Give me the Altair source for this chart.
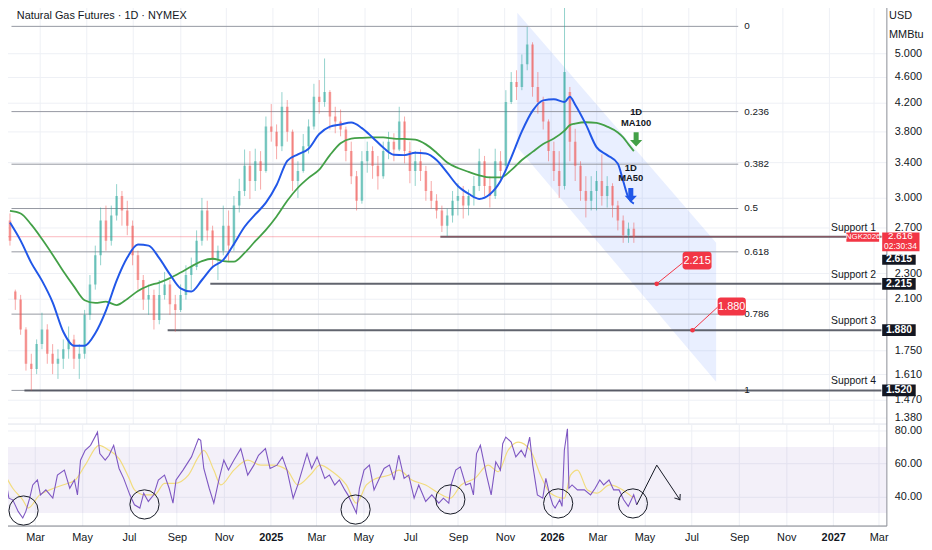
import altair as alt
import pandas as pd

FONT = "Liberation Sans"
INK = "#131722"
UP = "#26a69a"
DOWN = "#ef5350"

# ---------------- weekly candles (USD / MMBtu) ----------------
candle_start = "2024-01-22"
opens = [2.77, 2.155, 2.095, 1.885, 1.67, 1.64, 1.79, 1.885, 1.73, 1.67,
         1.70, 1.758, 1.82, 1.70, 1.73, 1.985, 2.21, 2.45, 2.77, 2.58,
         2.82, 3.02, 2.87, 2.72, 2.45, 2.245, 2.095, 2.13, 1.95, 2.13,
         2.21, 2.06, 2.02, 2.13, 2.285, 2.35, 2.58, 2.87, 2.675, 2.41,
         2.49, 2.72, 2.535, 2.92, 3.075, 3.36, 3.185, 3.415, 3.30, 3.86,
         3.79, 3.60, 4.14, 3.79, 3.185, 3.30, 3.60, 3.86, 4.29, 4.21,
         4.36, 4.00, 3.93, 3.82, 3.54, 3.24, 2.97, 3.415, 3.54, 3.36,
         3.24, 3.54, 3.66, 3.56, 3.93, 3.54, 3.30, 3.415, 3.30, 3.075,
         2.97, 2.87, 2.72, 2.82, 2.97, 3.02, 2.92, 3.02, 3.13, 3.415,
         3.13, 3.02, 3.415, 3.36, 4.21, 4.52, 4.44, 4.81, 5.16, 4.44,
         4.21, 3.93, 3.54, 3.30, 3.13, 4.36, 3.66, 3.36, 3.075, 2.97,
         3.075, 3.185, 3.02, 3.13, 2.92, 2.77, 2.63, 2.69]
highs = [2.84, 2.17, 2.13, 1.90, 1.73, 1.82, 2.00, 1.92, 1.79, 1.758,
         1.82, 1.905, 1.85, 1.79, 2.02, 2.285, 2.535, 2.90, 2.92, 2.92,
         3.15, 3.075, 2.97, 2.77, 2.49, 2.285, 2.21, 2.17, 2.245, 2.31,
         2.245, 2.13, 2.21, 2.365, 2.43, 2.675, 3.00, 2.97, 2.72, 2.535,
         2.92, 2.87, 3.02, 3.21, 3.56, 3.54, 3.57, 3.54, 4.00, 4.18,
         3.89, 4.36, 4.24, 3.82, 3.415, 3.76, 3.96, 4.49, 4.55, 4.91,
         4.39, 4.14, 4.10, 3.86, 3.66, 3.30, 3.54, 3.66, 3.60, 3.48,
         3.66, 3.79, 3.77, 4.14, 4.00, 3.66, 3.54, 3.56, 3.36, 3.185,
         3.04, 2.92, 2.89, 3.075, 3.16, 3.13, 3.09, 3.24, 3.57, 3.48,
         3.24, 3.57, 3.54, 4.39, 4.68, 4.71, 4.98, 5.49, 5.20, 4.68,
         4.29, 3.96, 3.66, 3.54, 6.50, 4.44, 3.83, 3.415, 3.24, 3.24,
         3.30, 3.50, 3.24, 3.16, 2.97, 2.82, 2.75, 2.75]
lows = [2.535, 2.02, 1.85, 1.63, 1.52, 1.61, 1.758, 1.67, 1.61, 1.583,
        1.64, 1.70, 1.64, 1.583, 1.70, 1.95, 2.17, 2.365, 2.49, 2.535,
        2.77, 2.72, 2.63, 2.365, 2.17, 2.02, 1.985, 1.885, 1.92, 2.095,
        1.985, 1.87, 2.005, 2.095, 2.17, 2.325, 2.535, 2.58, 2.35, 2.245,
        2.45, 2.40, 2.49, 2.85, 3.02, 2.99, 3.075, 3.09, 3.28, 3.66,
        3.44, 3.54, 3.66, 3.075, 3.00, 3.28, 3.51, 3.82, 4.04, 4.14,
        3.82, 3.77, 3.73, 3.415, 3.15, 2.87, 2.94, 3.28, 3.21, 3.09,
        3.21, 3.44, 3.415, 3.54, 3.39, 3.16, 3.13, 3.185, 2.97, 2.89,
        2.79, 2.66, 2.62, 2.75, 2.82, 2.79, 2.82, 2.92, 3.075, 3.02,
        2.90, 2.99, 3.185, 3.33, 4.18, 4.24, 4.39, 4.71, 4.29, 4.04,
        3.82, 3.415, 3.185, 3.00, 3.09, 3.415, 3.185, 2.97, 2.80, 2.87,
        2.87, 2.92, 2.90, 2.80, 2.675, 2.56, 2.56, 2.56]
closes = [2.58, 2.095, 1.885, 1.67, 1.64, 1.79, 1.885, 1.73, 1.67, 1.70,
          1.758, 1.82, 1.70, 1.73, 1.985, 2.21, 2.45, 2.77, 2.58, 2.82,
          3.02, 2.87, 2.72, 2.45, 2.245, 2.095, 2.13, 1.95, 2.13, 2.21,
          2.06, 2.02, 2.13, 2.285, 2.35, 2.58, 2.87, 2.675, 2.41, 2.49,
          2.72, 2.535, 2.92, 3.075, 3.36, 3.185, 3.415, 3.30, 3.86, 3.79,
          3.60, 4.14, 3.79, 3.185, 3.30, 3.60, 3.86, 4.29, 4.21, 4.36,
          4.00, 3.93, 3.82, 3.54, 3.24, 2.97, 3.415, 3.54, 3.36, 3.24,
          3.54, 3.66, 3.56, 3.93, 3.54, 3.30, 3.415, 3.30, 3.075, 2.97,
          2.87, 2.72, 2.82, 2.97, 3.02, 2.92, 3.02, 3.13, 3.415, 3.13,
          3.02, 3.415, 3.30, 4.21, 4.52, 4.44, 4.81, 5.16, 4.44, 4.21,
          3.93, 3.54, 3.30, 3.13, 4.68, 3.66, 3.36, 3.075, 2.97, 3.075,
          3.185, 3.02, 3.13, 2.92, 2.77, 2.63, 2.69, 2.616]

# ---------------- moving averages (sampled at candle weeks) ----------------
ma_weeks = list(range(0, 105, 2)) + [105, 106, 108, 110, 112, 114, 115, 116, 117]
ma50 = [2.75, 2.58, 2.385, 2.24, 2.075, 1.87, 1.78, 1.78, 1.86, 2.015,
        2.24, 2.43, 2.545, 2.535, 2.425, 2.29, 2.18, 2.155, 2.245, 2.35,
        2.41, 2.55, 2.71, 2.83, 2.95, 3.14, 3.42, 3.50, 3.57, 3.76,
        3.86, 3.89, 3.915, 3.84, 3.715, 3.585, 3.495, 3.49, 3.52, 3.51,
        3.43, 3.28, 3.13, 3.045, 2.99, 3.04, 3.185, 3.46, 3.795, 4.08,
        4.235, 4.25, 4.21, 4.29, 4.17, 3.89, 3.59, 3.49, 3.385, 3.185,
        3.00, 2.94]
ma100 = [2.865, 2.84, 2.73, 2.595, 2.455, 2.315, 2.195, 2.09, 2.07, 2.08,
         2.055, 2.10, 2.16, 2.20, 2.225, 2.26, 2.305, 2.355, 2.40, 2.42,
         2.40, 2.395, 2.47, 2.575, 2.68, 2.81, 2.97, 3.11, 3.22, 3.315,
         3.49, 3.64, 3.70, 3.71, 3.715, 3.715, 3.70, 3.695, 3.685, 3.625,
         3.52, 3.40, 3.335, 3.29, 3.25, 3.225, 3.225, 3.31, 3.43, 3.53,
         3.63, 3.70, 3.805, 3.88, 3.90, 3.92, 3.91, 3.86, 3.78, 3.715,
         3.625, 3.54]

# ---------------- RSI (day offset from candle_start, value) ----------------
rsi_points = [(-3, 41), (1, 50), (5, 39), (10, 38), (17, 31), (23, 27), (27, 31), (32, 39), (36, 47),
              (42, 50), (46, 41), (53, 44), (62, 39), (68, 53), (77, 56), (84, 45), (90, 50), (94, 41),
              (98, 62), (104, 68), (111, 71), (120, 79), (123, 66), (130, 62), (135, 65), (141, 71),
              (148, 57), (154, 51), (162, 41), (168, 35), (175, 33), (180, 42), (186, 37), (193, 41),
              (199, 50), (207, 53), (213, 45), (218, 36), (222, 50), (231, 56), (242, 64), (251, 75),
              (254, 74), (258, 57), (265, 45), (271, 36), (278, 51), (284, 62), (290, 56), (297, 62),
              (306, 69), (315, 53), (323, 59), (329, 65), (338, 69), (344, 57), (353, 59), (360, 64),
              (366, 56), (374, 39), (380, 47), (392, 66), (398, 57), (405, 64), (415, 51), (421, 53),
              (428, 47), (434, 50), (441, 44), (445, 41), (451, 35), (456, 30), (460, 45), (466, 56),
              (473, 59), (479, 44), (486, 51), (492, 57), (499, 59), (505, 50), (511, 65), (518, 51),
              (524, 53), (531, 39), (537, 47), (546, 37), (554, 41), (563, 36), (569, 39), (576, 36),
              (579, 47), (585, 56), (591, 58), (598, 47), (604, 48), (608, 41), (612, 66), (617, 71),
              (621, 62), (625, 53), (631, 41), (637, 61), (643, 56), (646, 72), (650, 76), (657, 73),
              (663, 64), (670, 68), (675, 64), (681, 76), (685, 59), (691, 41), (698, 39), (702, 51),
              (707, 41), (711, 35), (714, 33), (720, 38), (723, 34), (726, 68), (730, 81), (732, 45),
              (736, 47), (743, 44), (752, 44), (760, 41), (766, 45), (772, 50), (777, 47), (784, 50),
              (790, 44), (797, 44), (803, 38), (809, 34), (816, 41), (820, 35)]
rsi_ma_points = [(-3, 56), (10, 45), (23, 38), (30, 33), (45, 41), (58, 44), (75, 47), (91, 50),
                 (104, 59), (122, 71), (135, 68), (148, 63), (161, 51), (168, 44), (181, 41), (194, 41),
                 (207, 48), (220, 48), (238, 53), (251, 64), (258, 68), (271, 56), (280, 47), (297, 56),
                 (315, 62), (332, 59), (348, 59), (366, 56), (380, 47), (396, 53), (409, 59), (425, 55),
                 (443, 47), (456, 36), (469, 47), (482, 51), (499, 53), (511, 56), (528, 50), (546, 47),
                 (563, 42), (578, 39), (592, 47), (610, 51), (627, 59), (640, 55), (653, 68), (666, 73),
                 (682, 68), (695, 53), (708, 42), (726, 39), (734, 53), (743, 56), (756, 44), (768, 42),
                 (785, 47), (798, 45), (816, 39)]
rsi_circles_day = [24, 181, 455, 578, 718, 815]
rsi_circles_val = [31.5, 35.2, 32.1, 38.2, 35.8, 35.8]
zigzag_day = [820, 846, 876]
zigzag_val = [35, 59, 38]

# ---------------- levels and annotations ----------------
fib_levels = ["0", "0.236", "0.382", "0.5", "0.618", "0.786", "1"]
fib_prices = [5.50, 4.07, 3.38, 2.89, 2.48, 1.99, 1.52]
fib_start, fib_end, fib_label_at = "2024-01-24", "2026-09-04", "2026-09-12"

support_names = ["Support 1", "Support 2", "Support 3", "Support 4"]
support_prices = [2.615, 2.215, 1.880, 1.520]
support_start = ["2025-08-09", "2024-10-11", "2024-08-16", "2024-02-10"]
support_tags = ["2.615", "2.215", "1.880", "1.520"]
last_price = 2.616

callout_text = ["2.215", "1.880"]
callout_dot_date = ["2026-05-20", "2026-07-06"]
callout_dot_price = [2.215, 1.880]
callout_tip_date = ["2026-06-23", "2026-08-08"]
callout_tip_price = [2.385, 2.04]
callout_box_start = ["2026-06-23", "2026-08-08"]
callout_box_end = ["2026-07-31", "2026-09-14"]
callout_box_low = [2.33, 1.98]
callout_box_high = [2.48, 2.11]

channel_dates = ["2025-11-18", "2026-08-06"]
channel_top = [5.77, 2.56]
channel_bottom = [3.59, 1.567]

price_ticks = [5.0, 4.6, 4.2, 3.8, 3.4, 3.0, 2.7, 2.3, 2.1, 1.75, 1.61, 1.47, 1.38]
rsi_ticks = [80, 60, 40]
month_ticks = [(2024, 3), (2024, 5), (2024, 7), (2024, 9), (2024, 11),
               (2025, 1), (2025, 3), (2025, 5), (2025, 7), (2025, 9), (2025, 11),
               (2026, 1), (2026, 3), (2026, 5), (2026, 7), (2026, 9), (2026, 11),
               (2027, 1), (2027, 3)]

# ---------------- frames ----------------
base = pd.Timestamp(candle_start)
dates = pd.date_range(candle_start, periods=len(opens), freq="7D")
candles = pd.DataFrame({"date": dates, "open": opens, "high": highs, "low": lows, "close": closes})
candles["dir"] = ["up" if c >= o else "down" for o, c in zip(opens, closes)]

ma_df = pd.DataFrame([(dates[w], a, b) for w, a, b in zip(ma_weeks, ma50, ma100)],
                     columns=["date", "ma50", "ma100"])

rsi_df = pd.DataFrame(rsi_points, columns=["day", "rsi"])
rsi_df["date"] = base + pd.to_timedelta(rsi_df["day"], unit="D")
rsi_ma_df = pd.DataFrame(rsi_ma_points, columns=["day", "rsi"])
rsi_ma_df["date"] = base + pd.to_timedelta(rsi_ma_df["day"], unit="D")
circ_df = pd.DataFrame({"date": base + pd.to_timedelta(rsi_circles_day, unit="D"), "rsi": rsi_circles_val})
zig_df = pd.DataFrame({"date": base + pd.to_timedelta(zigzag_day, unit="D"), "rsi": zigzag_val})
head_df = zig_df.tail(1)

fib_df = pd.DataFrame({"level": fib_levels, "price": fib_prices,
                       "start": pd.to_datetime(fib_start), "end": pd.to_datetime(fib_end),
                       "label_at": pd.to_datetime(fib_label_at)})
sup_df = pd.DataFrame({"name": support_names, "price": support_prices,
                       "start": pd.to_datetime(support_start),
                       "end": pd.Timestamp("2027-03-11"), "label_at": pd.Timestamp("2027-03-04"),
                       "tag": support_tags})
chan_df = pd.DataFrame({"date": pd.to_datetime(channel_dates), "top": channel_top, "bottom": channel_bottom})
call_df = pd.DataFrame({"text": callout_text,
                        "dot_date": pd.to_datetime(callout_dot_date), "dot_price": callout_dot_price,
                        "tip_date": pd.to_datetime(callout_tip_date), "tip_price": callout_tip_price,
                        "b0": pd.to_datetime(callout_box_start), "b1": pd.to_datetime(callout_box_end),
                        "lo": callout_box_low, "hi": callout_box_high})
call_df["mid"] = call_df["b0"] + (call_df["b1"] - call_df["b0"]) / 2
call_df["pmid"] = (call_df["lo"] * call_df["hi"]) ** 0.5

# ---------------- scales / axes ----------------
x_scale = alt.Scale(domain=[alt.DateTime(year=2024, month=1, date=19, hours=10),
                            alt.DateTime(year=2027, month=3, date=11)])
p_scale = alt.Scale(type="log", domain=[1.352, 5.98], nice=False)
r_scale = alt.Scale(domain=[22.4, 84.2], nice=False, zero=False)
month_vals = [alt.DateTime(year=y, month=m, date=1) for y, m in month_ticks]

px_axis = alt.Axis(values=month_vals, labels=False, ticks=False, domain=True, domainColor="#e0e3eb",
                   grid=True, gridColor="#eef0f5", title=None)
rx_axis = alt.Axis(values=month_vals, ticks=False, labelPadding=6, domainColor="#787b86",
                   grid=True, gridColor="#eef0f5", title=None, labelFont=FONT, labelFontSize=11,
                   labelColor=INK,
                   labelExpr="month(datum.value) == 0 ? timeFormat(datum.value, '%Y') : timeFormat(datum.value, '%b')",
                   labelFontWeight={"condition": {"test": "month(datum.value) == 0", "value": "bold"},
                                    "value": "normal"})
py_axis = alt.Axis(orient="right", values=price_ticks, format=".3f", ticks=False, labelPadding=8,
                   domainColor="#8a8d96", grid=True, gridColor="#eef0f5", title=None, labelFont=FONT,
                   labelFontSize=11, labelColor=INK, labelOverlap=False)
ry_axis = alt.Axis(orient="right", values=rsi_ticks, format=".2f", ticks=False, labelPadding=8,
                   domainColor="#8a8d96", grid=True, gridColor="#eef0f5", title=None, labelFont=FONT,
                   labelFontSize=11, labelColor=INK)


def PX(f="date"):
    return alt.X(f"{f}:T", scale=x_scale, axis=px_axis)


def PY(f):
    return alt.Y(f"{f}:Q", scale=p_scale, axis=py_axis)


def RX(f="date"):
    return alt.X(f"{f}:T", scale=x_scale, axis=rx_axis)


def RY(f):
    return alt.Y(f"{f}:Q", scale=r_scale, axis=ry_axis)


dir_color = alt.Color("dir:N", scale=alt.Scale(domain=["up", "down"], range=[UP, DOWN]), legend=None)

# ---------------- price pane ----------------
channel = alt.Chart(chan_df).mark_area(color="#2962ff", opacity=0.1).encode(
    x=PX(), y=PY("top"), y2=alt.Y2("bottom"))
fib = alt.Chart(fib_df).mark_rule(color="#9598a1", strokeWidth=1).encode(
    x=PX("start"), x2=alt.X2("end"), y=PY("price"))
fib_txt = alt.Chart(fib_df).mark_text(align="left", font=FONT, fontSize=10, color=INK).encode(
    x=PX("label_at"), y=PY("price"), text="level:N")
sup = alt.Chart(sup_df).mark_rule(color="#50535e", strokeWidth=2, opacity=0.9).encode(
    x=PX("start"), x2=alt.X2("end"), y=PY("price"))
sup_txt = alt.Chart(sup_df).mark_text(align="right", dy=-9, font=FONT, fontSize=10.5, color=INK).encode(
    x=PX("label_at"), y=PY("price"), text="name:N")
last_line = alt.Chart(pd.DataFrame({"price": [last_price]})).mark_rule(
    color="#f23645", opacity=0.35, strokeWidth=1).encode(y=PY("price"))
wicks = alt.Chart(candles).mark_rule(strokeWidth=1, clip=True, opacity=0.5).encode(
    x=PX(), y=PY("low"), y2=alt.Y2("high"), color=dir_color)
bodies = alt.Chart(candles).mark_bar(size=2.6, clip=True, opacity=0.5).encode(
    x=PX(), y=PY("open"), y2=alt.Y2("close"), color=dir_color)
l100 = alt.Chart(ma_df).mark_line(color="#43a047", strokeWidth=1.8, interpolate="monotone").encode(
    x=PX(), y=PY("ma100"))
l50 = alt.Chart(ma_df).mark_line(color="#2157e8", strokeWidth=2, interpolate="monotone").encode(
    x=PX(), y=PY("ma50"))

ma_lab = pd.DataFrame({"date": pd.to_datetime(["2026-04-23", "2026-04-23", "2026-04-16", "2026-04-16"]),
                       "price": [4.06, 3.91, 3.34, 3.215], "text": ["1D", "MA100", "1D", "MA50"]})
ma_lab_txt = alt.Chart(ma_lab).mark_text(font=FONT, fontSize=9.5, fontWeight="bold", color=INK).encode(
    x=PX(), y=PY("price"), text="text:N")
arrow_shape = "M-0.35,-1L0.35,-1L0.35,0.1L0.85,0.1L0,1L-0.85,0.1L-0.35,0.1Z"
g_arrow_df = pd.DataFrame({"date": pd.to_datetime(["2026-04-23"]), "price": [3.69]})
b_arrow_df = pd.DataFrame({"date": pd.to_datetime(["2026-04-16"]), "price": [3.03]})
g_arrow = alt.Chart(g_arrow_df).mark_point(shape=arrow_shape, filled=True, size=210, opacity=1,
                                           color="#43a047").encode(x=PX(), y=PY("price"))
b_arrow = alt.Chart(b_arrow_df).mark_point(shape=arrow_shape, filled=True, size=210, opacity=1,
                                           color="#2157e8").encode(x=PX(), y=PY("price"))

call_line = alt.Chart(call_df).mark_rule(color="#f23645", strokeWidth=1).encode(
    x=PX("dot_date"), x2=alt.X2("tip_date"), y=PY("dot_price"), y2=alt.Y2("tip_price"))
call_dot = alt.Chart(call_df).mark_point(filled=True, color="#f23645", size=22, opacity=1).encode(
    x=PX("dot_date"), y=PY("dot_price"))
call_box = alt.Chart(call_df).mark_rect(color="#f23645", cornerRadius=3).encode(
    x=PX("b0"), x2=alt.X2("b1"), y=PY("lo"), y2=alt.Y2("hi"))
call_txt = alt.Chart(call_df).mark_text(color="white", font=FONT, fontSize=11).encode(
    x=PX("mid"), y=PY("pmid"), text="text:N")

# right-edge price tags
tag_df = sup_df.copy()
tag_df["t0"] = pd.Timestamp("2027-03-12")
tag_df["t1"] = pd.Timestamp("2027-04-25")
tag_df["tm"] = pd.Timestamp("2027-04-03")
tag_df["lo"] = tag_df["price"] / 1.021
tag_df["hi"] = tag_df["price"] * 1.021
tag_df.loc[0, ["lo", "hi", "price"]] = [2.37, 2.455, 2.415]
tag_box = alt.Chart(tag_df).mark_rect(color="#131722").encode(
    x=PX("t0"), x2=alt.X2("t1"), y=PY("lo"), y2=alt.Y2("hi"))
tag_txt = alt.Chart(tag_df).mark_text(color="white", font=FONT, fontSize=10.5, fontWeight="bold").encode(
    x=PX("tm"), y=PY("price"), text="tag:N")

last_df = pd.DataFrame({"t0": [pd.Timestamp("2027-03-12")], "t1": [pd.Timestamp("2027-04-30")],
                        "lo": [2.485], "hi": [2.655]})
last_box = alt.Chart(last_df).mark_rect(color="#f23645").encode(
    x=PX("t0"), x2=alt.X2("t1"), y=PY("lo"), y2=alt.Y2("hi"))
last_txt_a = alt.Chart(pd.DataFrame({"date": [pd.Timestamp("2027-04-05")], "price": [2.618],
                                     "text": [f"{last_price:.3f}"]})).mark_text(
    color="white", font=FONT, fontSize=10).encode(x=PX(), y=PY("price"), text="text:N")
last_txt_b = alt.Chart(pd.DataFrame({"date": [pd.Timestamp("2027-04-05")], "price": [2.535],
                                     "text": ["02:30:34"]})).mark_text(
    color="white", font=FONT, fontSize=8.5).encode(x=PX(), y=PY("price"), text="text:N")
ngk_df = pd.DataFrame({"t0": [pd.Timestamp("2027-01-24")], "t1": [pd.Timestamp("2027-03-08")],
                       "tm": [pd.Timestamp("2027-02-15")], "lo": [2.57], "hi": [2.655], "pm": [2.612],
                       "text": ["NGK2026"]})
ngk_box = alt.Chart(ngk_df).mark_rect(color="#f23645").encode(
    x=PX("t0"), x2=alt.X2("t1"), y=PY("lo"), y2=alt.Y2("hi"))
ngk_txt = alt.Chart(ngk_df).mark_text(color="white", font=FONT, fontSize=8).encode(
    x=PX("tm"), y=PY("pm"), text="text:N")

head_txt_df = pd.DataFrame({"date": pd.to_datetime(["2024-01-31", "2027-03-21", "2027-03-21"]),
                            "price": [5.71, 5.71, 5.34],
                            "text": ["Natural Gas Futures · 1D · NYMEX", "USD", "MMBtu"]})
head_txt = alt.Chart(head_txt_df).mark_text(align="left", font=FONT, fontSize=11, color=INK).encode(
    x=PX(), y=PY("price"), text="text:N")

price = alt.layer(channel, fib, sup, last_line, wicks, bodies, l100, l50, fib_txt, sup_txt,
                  ma_lab_txt, g_arrow, b_arrow, call_line, call_dot, call_box, call_txt, ngk_box, ngk_txt,
                  tag_box, tag_txt, last_box, last_txt_a, last_txt_b, head_txt).properties(width=892, height=425)

# ---------------- RSI pane ----------------
band_df = pd.DataFrame({"t0": [pd.Timestamp("2024-01-19 10:00")], "t1": [pd.Timestamp("2027-03-11")],
                        "lo": [30], "hi": [70]})
band = alt.Chart(band_df).mark_rect(color="#7e57c2", opacity=0.09).encode(
    x=RX("t0"), x2=alt.X2("t1"), y=RY("lo"), y2=alt.Y2("hi"))
rsi_line = alt.Chart(rsi_df).mark_line(color="#7e57c2", strokeWidth=1.1).encode(x=RX(), y=RY("rsi"))
rsi_ma = alt.Chart(rsi_ma_df).mark_line(color="#f2dc7e", strokeWidth=1.2, interpolate="monotone").encode(
    x=RX(), y=RY("rsi"))
circles = alt.Chart(circ_df).mark_point(shape="circle", size=870, color="#131722", strokeWidth=1,
                                        opacity=1, filled=False).encode(x=RX(), y=RY("rsi"))
zig = alt.Chart(zig_df).mark_line(color="#131722", strokeWidth=1).encode(x=RX(), y=RY("rsi"))
head = alt.Chart(head_df).mark_point(shape="M-1,-0.75L0,0L-1,0.75", filled=False, size=90, angle=56,
                                     color="#131722", strokeWidth=1, opacity=1).encode(x=RX(), y=RY("rsi"))

rsi = alt.layer(band, rsi_ma, rsi_line, circles, zig, head).properties(width=892, height=103)

chart = alt.vconcat(price, rsi, spacing=0).properties(
    padding={"left": -8, "top": -8, "right": 0, "bottom": 0},
    background="white",
).configure_view(stroke=None)

chart.save("out.html", embed_options={"renderer": "svg", "actions": False})
